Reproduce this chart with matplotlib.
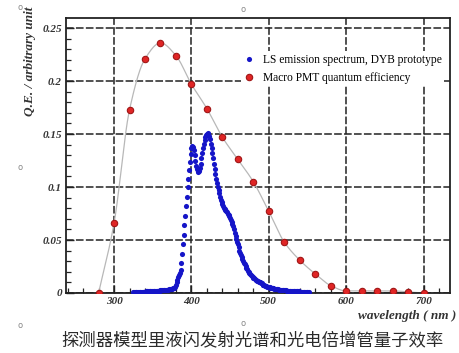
import numpy as np
import matplotlib

matplotlib.use('Agg')
import matplotlib.pyplot as plt
from matplotlib.ticker import MultipleLocator

# PMT quantum efficiency (red points)
qe_wl = [280, 300, 320, 340, 360, 380, 400, 420, 440, 460, 480,
         500, 520, 540, 560, 580, 600, 620, 640, 660, 680, 700]
qe_val = [0.000, 0.066, 0.173, 0.221, 0.236, 0.224, 0.197, 0.174, 0.147, 0.126, 0.105,
          0.077, 0.048, 0.031, 0.018, 0.007, 0.002, 0.002, 0.002, 0.002, 0.001, 0.000]

# LS emission spectrum, one value per nm starting at 325 nm
ls_start = 325
ls_val = [
    0.001, 0.001, 0.001, 0.001, 0.001, 0.001, 0.001, 0.001, 0.001, 0.001,  # 325
    0.001, 0.001, 0.001, 0.001, 0.001, 0.001, 0.002, 0.002, 0.002, 0.002,  # 335
    0.002, 0.002, 0.002, 0.002, 0.002, 0.002, 0.002, 0.002, 0.002, 0.002,  # 345
    0.002, 0.002, 0.002, 0.002, 0.002, 0.003, 0.003, 0.003, 0.003, 0.003,  # 355
    0.003, 0.003, 0.003, 0.003, 0.003, 0.003, 0.004, 0.004, 0.004, 0.004,  # 365
    0.004, 0.005, 0.005, 0.005, 0.006, 0.008, 0.010, 0.012, 0.015, 0.017,  # 375
    0.019, 0.022, 0.028, 0.037, 0.046, 0.055, 0.064, 0.073, 0.082, 0.091,  # 385
    0.100, 0.108, 0.116, 0.124, 0.131, 0.137, 0.139, 0.138, 0.135, 0.130,  # 395
    0.125, 0.120, 0.117, 0.115, 0.114, 0.115, 0.118, 0.122, 0.127, 0.132,  # 405
    0.137, 0.141, 0.144, 0.147, 0.149, 0.150, 0.151, 0.150, 0.148, 0.145,  # 415
    0.141, 0.137, 0.132, 0.127, 0.122, 0.117, 0.112, 0.108, 0.104, 0.100,  # 425
    0.097, 0.094, 0.091, 0.088, 0.086, 0.084, 0.082, 0.080, 0.079, 0.078,  # 435
    0.077, 0.076, 0.075, 0.074, 0.073, 0.071, 0.069, 0.067, 0.065, 0.063,  # 445
    0.060, 0.057, 0.054, 0.051, 0.048, 0.046, 0.043, 0.040, 0.038, 0.036,  # 455
    0.034, 0.032, 0.030, 0.028, 0.027, 0.025, 0.024, 0.023, 0.021, 0.020,  # 465
    0.019, 0.018, 0.017, 0.016, 0.015, 0.014, 0.014, 0.013, 0.012, 0.012,  # 475
    0.011, 0.011, 0.010, 0.010, 0.010, 0.009, 0.009, 0.008, 0.008, 0.008,  # 485
    0.007, 0.007, 0.007, 0.006, 0.006, 0.006, 0.006, 0.005, 0.005, 0.005,  # 495
    0.005, 0.005, 0.004, 0.004, 0.004, 0.004, 0.004, 0.004, 0.003, 0.003,  # 505
    0.003, 0.003, 0.003, 0.003, 0.003, 0.003, 0.003, 0.003, 0.002, 0.002,  # 515
    0.002, 0.002, 0.002, 0.002, 0.002, 0.002, 0.002, 0.002, 0.002, 0.002,  # 525
    0.002, 0.002, 0.002, 0.002, 0.002, 0.001, 0.001, 0.001, 0.001, 0.001,  # 535
    0.001, 0.001, 0.001, 0.001, 0.001, 0.001, 0.001, 0.001,                # 545
]
ls_wl = np.arange(ls_start, ls_start + len(ls_val))

x_ticks = [300, 400, 500, 600, 700]
y_ticks = [0, 0.05, 0.1, 0.15, 0.2, 0.25]
y_tick_labels = ['0', '0.05', '0.1', '0.15', '0.2', '0.25']

caption = '探测器模型里液闪发射光谱和光电倍增管量子效率'


def pchip(x, y, xs):
    # monotone cubic through the points, used for the thin guide curve
    x = np.asarray(x, float)
    y = np.asarray(y, float)
    h = np.diff(x)
    d = np.diff(y) / h
    m = np.zeros_like(y)
    for k in range(1, len(x) - 1):
        if d[k - 1] * d[k] > 0:
            w1 = 2 * h[k] + h[k - 1]
            w2 = h[k] + 2 * h[k - 1]
            m[k] = (w1 + w2) / (w1 / d[k - 1] + w2 / d[k])
    m[0] = d[0]
    m[-1] = d[-1]
    idx = np.clip(np.searchsorted(x, xs) - 1, 0, len(x) - 2)
    t = (xs - x[idx]) / h[idx]
    h00 = 2 * t ** 3 - 3 * t ** 2 + 1
    h10 = t ** 3 - 2 * t ** 2 + t
    h01 = -2 * t ** 3 + 3 * t ** 2
    h11 = t ** 3 - t ** 2
    return h00 * y[idx] + h10 * h[idx] * m[idx] + h01 * y[idx + 1] + h11 * h[idx] * m[idx + 1]


serif = 'Liberation Serif'

fig = plt.figure(figsize=(4.59, 3.53), dpi=100)
ax = fig.add_axes([0.144, 0.170, 0.836, 0.779])

xs = np.linspace(qe_wl[0], qe_wl[-1], 600)
ax.plot(xs, pchip(qe_wl, qe_val, xs), color='#b8b8b8', lw=0.9, zorder=2)
ax.plot(ls_wl, ls_val, 'o', color='#1515c8', ms=3.7, mec='none', zorder=3,
        label='LS emission spectrum, DYB prototype')
ax.plot(qe_wl, qe_val, 'o', color='#e02525', ms=4.6, mec='#a01515', mew=0.8, zorder=4,
        label='Macro PMT quantum efficiency')

ax.set_xlim(238, 734)
ax.set_ylim(0, 0.2595)
ax.set_xticks(x_ticks)
ax.set_yticks(y_ticks)
ax.set_yticklabels(y_tick_labels)
ax.xaxis.set_minor_locator(MultipleLocator(20))
ax.yaxis.set_minor_locator(MultipleLocator(0.01))
ax.tick_params(which='both', direction='in', top=False, right=False, color='#222')
ax.tick_params(which='major', length=6, width=1.0, pad=3)
ax.tick_params(which='minor', length=3.5, width=0.9)
for lab in ax.get_xticklabels() + ax.get_yticklabels():
    lab.set_fontfamily(serif)
    lab.set_fontstyle('italic')
    lab.set_fontweight('bold')
    lab.set_fontsize(8)
    lab.set_color('#333')

ax.grid(True, which='major', color='#222', lw=1.1, ls=(0, (5, 1.5)))
for sp in ax.spines.values():
    sp.set_color('#222')
    sp.set_linewidth(1.3)

ax.text(-0.094, 1.04, 'Q.E. / arbitrary unit', transform=ax.transAxes, rotation=90,
        ha='center', va='top', fontfamily=serif, fontstyle='italic',
        fontweight='bold', fontsize=9.5, color='#333')
ax.text(1.018, -0.085, 'wavelength ( nm )', transform=ax.transAxes, ha='right', va='center',
        fontfamily=serif, fontstyle='italic', fontweight='bold', fontsize=9.5, color='#333')

leg = ax.legend(loc='upper right', bbox_to_anchor=(1.0, 0.9), frameon=True,
                facecolor='white', edgecolor='none', framealpha=1, fancybox=False,
                prop={'family': serif, 'size': 8.3}, handletextpad=0.7,
                labelspacing=0.55, borderpad=0.2, handlelength=1.0, markerscale=1.0)

fig.text(0.549, 0.037, caption, ha='center', va='center', fontsize=12.5,
         fontfamily='Noto Sans CJK SC', color='#2a2a2a')

# small round anchors around the frame
for fx, fy in [(20, 8), (243, 9), (20, 167), (20, 325), (243, 324)]:
    fig.text(fx / 459, 1 - fy / 353, 'o', ha='center', va='center', fontsize=6,
             color='#888', fontfamily='DejaVu Sans')

fig.savefig('out.png', dpi=100)
